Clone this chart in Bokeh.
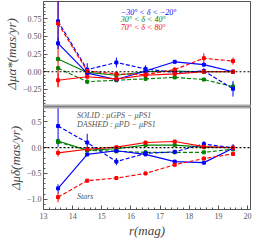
from bokeh.plotting import figure
from bokeh.layouts import column
from bokeh.models import Span, Label, FixedTicker, Range1d, ColumnDataSource
from bokeh.embed import file_html
from bokeh.resources import INLINE

mags = [13.5, 14.5, 15.5, 16.5, 17.5, 18.5, 19.5]

# top panel: delta mu_alpha*
blue_solid_ra = [0.40, -0.02, -0.11, 0.01, 0.14, 0.10, 0.00]
blue_solid_ra_err = [0.08, 0.02, 0.02, 0.02, 0.02, 0.02, 0.03]
blue_dash_ra = [0.71, 0.03, 0.13, 0.04, -0.01, 0.01, -0.24]
blue_dash_ra_err = [0.32, 0.09, 0.07, 0.05, 0.03, 0.04, 0.11]
green_solid_ra = [0.18, -0.01, -0.05, 0.00, 0.01, 0.00, 0.00]
green_solid_ra_err = [0.03, 0.02, 0.02, 0.02, 0.02, 0.02, 0.02]
green_dash_ra = [0.05, -0.14, -0.12, -0.10, -0.08, -0.11, -0.21]
green_dash_ra_err = [0.03, 0.03, 0.02, 0.02, 0.02, 0.02, 0.05]
red_solid_ra = [-0.12, -0.07, -0.10, -0.05, -0.03, 0.00, 0.00]
red_solid_ra_err = [0.10, 0.02, 0.02, 0.02, 0.02, 0.02, 0.02]
red_dash_ra = [0.68, 0.01, -0.03, -0.04, 0.03, 0.19, 0.15]
red_dash_ra_err = [0.89, 0.02, 0.02, 0.02, 0.03, 0.07, 0.05]

# bottom panel: delta mu_delta
blue_solid_de = [-0.79, -0.13, -0.06, -0.13, -0.27, -0.29, -0.01]
blue_solid_de_err = [0.08, 0.02, 0.02, 0.02, 0.02, 0.02, 0.03]
blue_dash_de = [0.42, 0.10, -0.27, -0.11, -0.08, 0.07, 0.00]
blue_dash_de_err = [0.40, 0.17, 0.07, 0.05, 0.03, 0.06, 0.07]
green_solid_de = [0.13, -0.05, -0.02, 0.05, 0.05, 0.01, 0.00]
green_solid_de_err = [0.04, 0.02, 0.02, 0.02, 0.02, 0.02, 0.02]
green_dash_de = [0.11, -0.05, -0.07, -0.09, -0.09, -0.09, -0.03]
green_dash_de_err = [0.04, 0.02, 0.02, 0.02, 0.02, 0.02, 0.02]
red_solid_de = [-0.10, -0.03, 0.01, 0.10, 0.12, 0.02, 0.00]
red_solid_de_err = [0.07, 0.02, 0.02, 0.02, 0.02, 0.02, 0.02]
red_dash_de = [-0.96, -0.64, -0.59, -0.50, -0.33, -0.21, -0.12]
red_dash_de_err = [0.10, 0.03, 0.03, 0.03, 0.03, 0.03, 0.04]

x_ticks = [13, 14, 15, 16, 17, 18, 19, 20]
top_ticks = [-0.25, 0.0, 0.25, 0.5, 0.75]
top_labels = ["\u22120.25", "0.00", "0.25", "0.50", "0.75"]
bot_ticks = [-1.0, -0.5, 0.0, 0.5]
bot_labels = ["\u22121.0", "\u22120.5", "0.0", "0.5"]
legend_labels = ["\u221230\u00b0 < \u03b4 < \u221220\u00b0", "30\u00b0 < \u03b4 < 40\u00b0", "70\u00b0 < \u03b4 < 80\u00b0"]

BLUE = "#0000ff"
GREEN = "#008000"
RED = "#ff0000"
SERIF = "Liberation Serif"

xr = Range1d(13, 20.1)
W = 253
LB = 33
RB = 3


def style(p, ticks, labels):
    p.outline_line_color = "#555555"
    p.outline_line_width = 1
    p.grid.visible = False
    p.background_fill_color = "white"
    p.border_fill_color = "white"
    for ax in p.axis:
        ax.axis_line_color = "#555555"
        ax.major_tick_in = 4
        ax.major_tick_out = 0
        ax.minor_tick_in = 2
        ax.minor_tick_out = 0
        ax.major_tick_line_color = "#555555"
        ax.minor_tick_line_color = "#555555"
        ax.major_label_text_font = SERIF
        ax.major_label_text_font_size = "8px"
        ax.major_label_text_color = "#555555"
        ax.axis_label_text_font = SERIF
        ax.axis_label_text_font_style = "italic"
        ax.axis_label_text_font_size = "13px"
        ax.axis_label_text_color = "#444444"
    p.yaxis.major_label_standoff = 2
    p.yaxis.axis_label_standoff = 1
    p.yaxis.major_label_overrides = {t: l for t, l in zip(ticks, labels)}


def series_err(p, y, err, color):
    src = ColumnDataSource(dict(x=mags, lo=[a - e for a, e in zip(y, err)], hi=[a + e for a, e in zip(y, err)]))
    p.segment(x0="x", y0="lo", x1="x", y1="hi", source=src, line_color=color, line_width=1.0)


def series_line(p, y, color, dash):
    src = ColumnDataSource(dict(x=mags, y=y))
    p.line("x", "y", source=src, line_color=color, line_width=1.15, line_dash=dash)
    p.scatter("x", "y", source=src, marker="square", size=3, fill_color=color, line_color=color)


# ---- top figure
p1 = figure(width=W, height=106, x_range=xr, y_range=Range1d(-0.49, 0.99),
            output_backend="svg", toolbar_location=None,
            min_border_left=LB, min_border_right=RB, min_border_top=1, min_border_bottom=0)
style(p1, top_ticks, top_labels)
p1.yaxis.ticker = FixedTicker(ticks=top_ticks, minor_ticks=[round(-0.45 + 0.05 * i, 2) for i in range(29)])
p1.xaxis.visible = False
p1.yaxis.axis_label = "\u0394\u03bc\u03b1*(mas/yr)"

p1.add_layout(Span(location=0, dimension="width", line_color="black", line_dash="2 2", line_width=1.2))
series_err(p1, red_dash_ra, red_dash_ra_err, RED)
series_err(p1, red_solid_ra, red_solid_ra_err, RED)
series_err(p1, green_dash_ra, green_dash_ra_err, GREEN)
series_err(p1, green_solid_ra, green_solid_ra_err, GREEN)
series_err(p1, blue_dash_ra, blue_dash_ra_err, BLUE)
series_err(p1, blue_solid_ra, blue_solid_ra_err, BLUE)
series_line(p1, green_dash_ra, GREEN, "4 2")
series_line(p1, green_solid_ra, GREEN, "solid")
series_line(p1, blue_dash_ra, BLUE, "4 2")
series_line(p1, blue_solid_ra, BLUE, "solid")
series_line(p1, red_dash_ra, RED, "4 2")
series_line(p1, red_solid_ra, RED, "solid")
p1.add_layout(Span(location=-0.49, dimension="width", line_color="#aaaaaa", line_width=4))
for txt, col, yy in zip(legend_labels, [BLUE, GREEN, RED], [0.84, 0.73, 0.62]):
    p1.add_layout(Label(x=15.65, y=yy, text=txt, text_color=col, text_font=SERIF,
                        text_font_style="italic", text_font_size="8px", text_baseline="middle"))

# ---- bottom figure
p2 = figure(width=W, height=134, x_range=xr, y_range=Range1d(-1.2, 0.8),
            output_backend="svg", toolbar_location=None,
            min_border_left=LB, min_border_right=RB, min_border_top=0, min_border_bottom=28)
style(p2, bot_ticks, bot_labels)
p2.yaxis.ticker = FixedTicker(ticks=bot_ticks, minor_ticks=[round(-1.1 + 0.1 * i, 2) for i in range(19)])
p2.xaxis.ticker = FixedTicker(ticks=x_ticks, minor_ticks=[round(13 + 0.2 * i, 2) for i in range(36)])
p2.xaxis.major_label_standoff = 3
p2.xaxis.axis_label_standoff = 1
p2.xaxis.axis_label = "r(mag)"
p2.yaxis.axis_label = "\u0394\u03bc\u03b4(mas/yr)"

p2.add_layout(Span(location=0, dimension="width", line_color="black", line_dash="2 2", line_width=1.2))
series_err(p2, red_dash_de, red_dash_de_err, RED)
series_err(p2, red_solid_de, red_solid_de_err, RED)
series_err(p2, green_dash_de, green_dash_de_err, GREEN)
series_err(p2, green_solid_de, green_solid_de_err, GREEN)
series_err(p2, blue_dash_de, blue_dash_de_err, BLUE)
series_err(p2, blue_solid_de, blue_solid_de_err, BLUE)
series_line(p2, green_dash_de, GREEN, "4 2")
series_line(p2, green_solid_de, GREEN, "solid")
series_line(p2, blue_dash_de, BLUE, "4 2")
series_line(p2, blue_solid_de, BLUE, "solid")
series_line(p2, red_dash_de, RED, "4 2")
series_line(p2, red_solid_de, RED, "solid")
p2.add_layout(Span(location=0.8, dimension="width", line_color="#aaaaaa", line_width=4))
p2.add_layout(Label(x=14.15, y=0.62, text="SOLID : \u03bcGPS \u2212 \u03bcPS1", text_color="#555555",
                    text_font=SERIF, text_font_style="italic", text_font_size="8px", text_baseline="middle"))
p2.add_layout(Label(x=14.15, y=0.45, text="DASHED : \u03bcPD \u2212 \u03bcPS1", text_color="#555555",
                    text_font=SERIF, text_font_style="italic", text_font_size="8px", text_baseline="middle"))
p2.add_layout(Label(x=14.15, y=-0.95, text="Stars", text_color="#555555",
                    text_font=SERIF, text_font_style="italic", text_font_size="8px", text_baseline="middle"))

layout = column(p1, p2, spacing=0)
open("out.html", "w").write(file_html(layout, INLINE))
